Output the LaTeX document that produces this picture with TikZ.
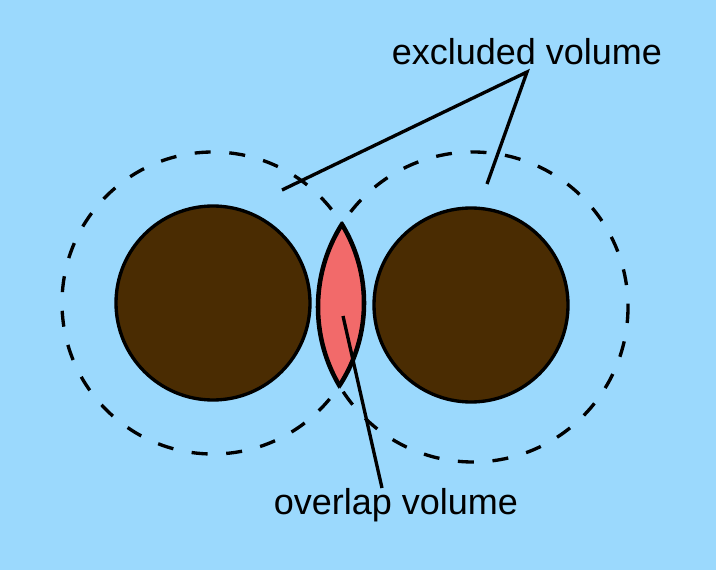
\documentclass[tikz,border=0pt]{standalone}
\usepackage{fontspec}
\setmainfont{Liberation Sans}
\definecolor{skyblue}{RGB}{155,217,253}
\definecolor{particle}{RGB}{74,44,2}
\definecolor{overlap}{RGB}{242,106,106}
\tikzset{
  shell/.style={line width=2.5pt, dash pattern=on 12pt off 14pt},
  pointer/.style={line width=2.5pt},
  label/.style={font=\fontsize{27}{32}\selectfont, inner sep=0pt}
}
\begin{document}
\begin{tikzpicture}[x=0.75pt,y=-0.75pt]
\fill[skyblue] (0,0) rectangle (716,570);
\useasboundingbox (0,0) rectangle (716,570);
% overlap lens
\begin{scope}
\clip (213,303) circle (152);
\fill[overlap] (473,307) circle (155);
\draw[line width=3.4pt] (473,307) circle (155);
\end{scope}
\begin{scope}
\clip (473,307) circle (156);
\draw[line width=3.4pt] (213,303) circle (151);
\end{scope}
% particles
\filldraw[fill=particle, line width=2.5pt] (213,303) circle (97);
\filldraw[fill=particle, line width=2.5pt] (471,305) circle (97);
% excluded shells
\draw[shell] (213,303) circle (151);
\draw[shell] (473,307) circle (155);
% labels
\node[label] (excl) at (527,52) {excluded volume};
\node[label] (ovl) at (396,505) {overlap volume};
\coordinate (tip) at (527,72);
\coordinate (shellL) at (282,190);
\coordinate (shellR) at (487,184);
\coordinate (lens) at (343,316);
\coordinate (ovltop) at (382,488);
\draw[pointer] (shellL) -- (tip) -- (shellR);
\draw[pointer] (lens) -- (ovltop);
\end{tikzpicture}
\end{document}
